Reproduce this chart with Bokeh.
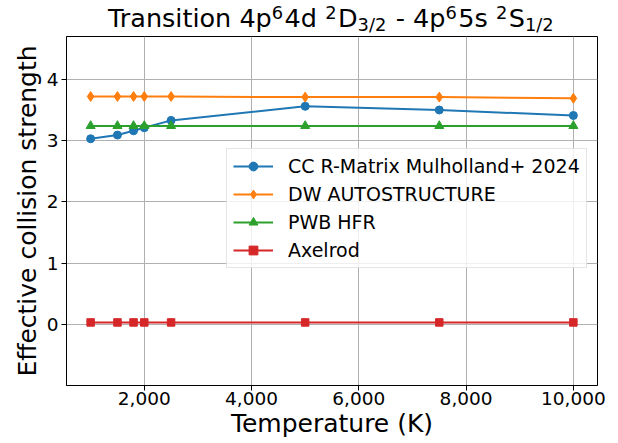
from bokeh.plotting import figure
from bokeh.models import Div, Range1d, FixedTicker, NumeralTickFormatter
from bokeh.layouts import column
from bokeh.embed import file_html
from bokeh.resources import INLINE

# ---- data ----
temperature = [1000, 1500, 1800, 2000, 2500, 5000, 7500, 10000]
cc_rmatrix = [3.03, 3.09, 3.16, 3.21, 3.33, 3.56, 3.50, 3.41]
dw_autostructure = [3.72, 3.72, 3.72, 3.72, 3.72, 3.71, 3.71, 3.69]
pwb_hfr = [3.24, 3.24, 3.24, 3.24, 3.24, 3.24, 3.24, 3.24]
axelrod = [0.03, 0.03, 0.03, 0.03, 0.03, 0.03, 0.03, 0.03]

series_labels = ["CC R-Matrix Mulholland+ 2024", "DW AUTOSTRUCTURE", "PWB HFR", "Axelrod"]
x_ticks = [2000, 4000, 6000, 8000, 10000]
y_ticks = [0, 1, 2, 3, 4]

FONT = "DejaVu Sans"

sup = '<span style="font-size:0.7em;position:relative;top:-0.45em;margin-right:0.08em;">{}</span>'
sub = '<span style="font-size:0.7em;position:relative;top:0.22em;margin-right:0.08em;">{}</span>'
title_html = (
    '<div style="width:531px;margin-left:66px;text-align:center;'
    "font-family:'DejaVu Sans';font-size:25.5px;line-height:25px;padding-top:6px;"
    'white-space:nowrap;color:black;">'
    'Transition 4p' + sup.format('6') + '4d ' + sup.format('2') + 'D' + sub.format('3/2') +
    ' - 4p' + sup.format('6') + '5s ' + sup.format('2') + 'S' + sub.format('1/2') +
    '</div>'
)
title_div = Div(text=title_html, width=610, height=36, margin=(0, 0, 0, 0))

p = figure(width=610, height=407, output_backend="svg", toolbar_location=None,
           x_range=Range1d(550, 10450), y_range=Range1d(-1, 4.7),
           min_border_left=66, min_border_right=13, min_border_top=0, min_border_bottom=58,
           margin=(0, 0, 0, 0))

p.outline_line_color = "black"
p.outline_line_width = 1

p.xaxis.ticker = FixedTicker(ticks=x_ticks)
p.xaxis.formatter = NumeralTickFormatter(format="0,0")
p.yaxis.ticker = FixedTicker(ticks=y_ticks)
p.xaxis.axis_label = "Temperature (K)"
p.yaxis.axis_label = "Effective collision strength"

for ax in p.axis:
    ax.axis_label_text_font = FONT
    ax.axis_label_text_font_size = "25px"
    ax.axis_label_text_font_style = "normal"
    ax.axis_label_text_color = "black"
    ax.major_label_text_font = FONT
    ax.major_label_text_font_size = "18.5px"
    ax.major_label_text_color = "black"
    ax.minor_tick_line_color = None
    ax.major_tick_out = 5
    ax.major_tick_in = 0
    ax.major_tick_line_color = "black"
    ax.axis_line_color = "black"

p.xaxis.major_label_text_line_height = 1.0
p.xaxis.axis_label_text_line_height = 1.0
p.xaxis.major_label_standoff = 1
p.xaxis.axis_label_standoff = 1
p.yaxis.major_label_standoff = 3
p.yaxis.axis_label_standoff = 2

p.grid.grid_line_color = "#b0b0b0"
p.grid.grid_line_width = 1

colors = ["#1f77b4", "#ff7f0e", "#2ca02c", "#d62728"]
markers = ["circle", "diamond", "triangle", "square"]
sizes = [8, 10, 9, 7.5]
all_series = [cc_rmatrix, dw_autostructure, pwb_hfr, axelrod]

for ys, lab, c, m, s in zip(all_series, series_labels, colors, markers, sizes):
    p.line(temperature, ys, line_color=c, line_width=2, legend_label=lab)
    p.scatter(temperature, ys, marker=m, size=s, fill_color=c, line_color=c, legend_label=lab)

lg = p.legend[0]
lg.location = (160, 117)
lg.margin = 0
lg.padding = 6
lg.spacing = 6
lg.glyph_width = 40
lg.glyph_height = 22
lg.label_height = 22
lg.label_standoff = 15
lg.label_text_font = FONT
lg.label_text_font_size = "19px"
lg.label_text_color = "black"
lg.border_line_color = "#cccccc"
lg.border_line_width = 1
lg.background_fill_alpha = 0.8

layout = column(title_div, p, spacing=0)
open("out.html", "w").write(file_html(layout, INLINE))
